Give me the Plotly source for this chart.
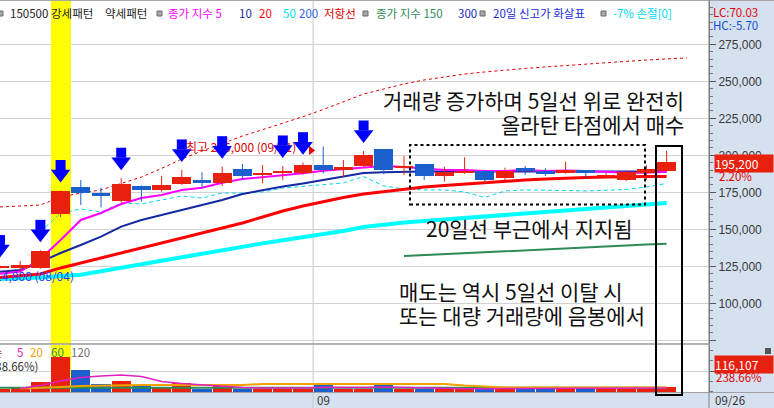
import plotly.graph_objects as go

# ---------------- data ----------------
dates = ["08/09","08/10","08/11","08/14","08/16","08/17","08/18","08/21","08/22","08/23",
         "08/24","08/25","08/28","08/29","08/30","08/31","09/01","09/04","09/05","09/06",
         "09/07","09/08","09/11","09/12","09/13","09/14","09/15","09/18","09/19","09/20",
         "09/21","09/22","09/25","09/26"]
opens  = [123900,123900,123700,160500,178600,174300,169300,179300,176600,180600,
          183500,181500,190500,187200,187800,187800,193400,190000,193000,204300,
          191600,194100,186000,188200,189600,184900,191200,189400,188200,190000,
          186000,183300,187800,189600]
highs  = [125500,128600,135800,176200,183300,178100,184500,179600,186000,190100,
          188500,192300,194100,193400,192800,195000,206000,196800,202900,204300,
          199500,194100,192300,198700,190000,191600,192800,191200,195700,190000,
          188000,189600,193400,203100]
lows   = [123500,122000,123400,158300,166400,164900,168000,168700,175400,180000,
          177700,179300,183300,181100,183300,187000,187800,185500,192100,187200,
          186700,183300,182200,187500,182200,183300,186700,186000,187500,184500,
          184700,182600,183300,189000]
closes = [125200,125900,135500,175900,174700,172500,180600,176600,179900,185500,
          181500,188200,186200,187600,189400,193400,190000,192100,200200,190000,
          192300,186000,188900,189600,183300,189600,189400,187200,190000,187800,
          186400,188900,191000,195200]
volumes = [54000,117000,240000,850000,525000,190000,256000,142000,78000,200000,
           61000,142000,61000,58000,64000,60000,176000,62000,66000,176000,
           57000,60000,63000,59000,61000,68000,65000,58000,62000,60000,
           57000,61000,64000,116107]

ma5  = [120000,121500,130000,142800,156300,161000,167100,171200,173200,176600,
        178100,181500,184000,185300,186400,187800,189600,190700,192100,192800,
        192100,191100,190000,190000,189400,189400,190000,189400,189700,189400,
        188700,188200,188200,188900]
ma10 = [121400,122500,127900,134000,139400,145000,151800,156300,159700,163000,
        166400,169800,173900,176600,178900,181000,183300,186000,188000,188500,
        188900,189000,189100,189000,189000,189100,189000,189000,189000,189100,
        189000,188900,189000,189000]
ma20 = [117500,118500,119800,123900,127200,130600,134000,137400,140700,144100,
        147500,150900,154300,158300,162400,165700,168800,171500,173900,175500,
        177200,178600,179600,180600,181300,182300,183300,184000,184700,185000,
        185300,185700,185700,185700]
ma50 = [116400,116800,117400,118400,119300,121700,124100,126600,128900,131300,
        133700,136100,138500,140500,142600,144700,146700,148800,151600,153200,
        154600,155600,156600,157600,158600,159700,160700,161700,162700,163700,
        164700,165700,166800,167800]
ma150 = [None]*20 + [131900,132500,133200,133800,134500,135100,135800,136400,
                     137100,137700,138400,139000,139700,140300]
stop7 = [None, None, 148200,161000,163700,161700,167800,167100,169800,172500,
         171100,174500,174500,175200,177900,178900,179900,181300,185700,179300,
         177200,176600,176600,175200,171500,175900,176600,176600,176200,175900,
         176600,176900,178600,181000]
resist = [165100,165700,166400,171800,174500,176600,180900,185300,191100,197500,
          202900,208100,213000,217300,221600,226100,230900,236200,241400,244800,
          248200,250900,252900,254900,256300,257700,258700,259700,260700,261700,
          262700,263700,264400,265100,265800]
vma5  = [None,73000,146000,256000,341000,378000,402000,366000,244000,195000,
         159000,122000,98000,85000,85000,85000,105000,98000,98000,110000,
         98000,85000,85000,70000,70000,70000,70000,70000,70000,70000,
         70000,70000,70000,85000]
vma20 = [None,73000,85000,110000,134000,146000,159000,159000,159000,159000,
         159000,159000,159000,183000,183000,183000,183000,183000,183000,183000,
         183000,183000,183000,146000,122000,100000,100000,100000,100000,100000,
         100000,100000,100000,100000]
vma60 = [93000]*34
arrow_days = [0, 2, 3, 6, 9, 11, 14, 15, 18]
highlight_day = 3
price_ticks = [75000,100000,125000,150000,175000,200000,225000,250000,275000]
high_label = "최고 206,000 (09/01)"
low_label = "최저 114,800 (08/04)"

# ---------------- geometry helpers ----------------
W, H = 774, 408
PLOT_R = 709
SPACING = 20.2
PRICE_PER_PX = 25000 / 37
P_REF_Y, P_REF = 303.3, 100000
VOL_PER_PX = 24390
V_ZERO_Y = 391.5

def px(xp): return xp / W
def py(yp): return 1 - yp / H
def xdata(xp): return xp / SPACING
def pdata(yp): return P_REF + (P_REF_Y - yp) * PRICE_PER_PX

RED = "#e8200e"
BLUE = "#1a5fcc"
idx = list(range(len(closes)))
cols = [RED if c >= o else BLUE for o, c in zip(opens, closes)]
price_range = [pdata(344), pdata(0)]
vol_range = [(V_ZERO_Y - 392) * VOL_PER_PX, (V_ZERO_Y - 345) * VOL_PER_PX]
x_range = [0, xdata(PLOT_R)]

fig = go.Figure()

# highlighted day column
fig.add_trace(go.Bar(x=[highlight_day], y=[price_range[1] - price_range[0]],
                     base=[price_range[0]], width=1, marker=dict(color="#ffff00", line=dict(width=0)),
                     hoverinfo="skip"))
fig.add_trace(go.Bar(x=[highlight_day], y=[vol_range[1] - vol_range[0]],
                     base=[vol_range[0]], width=1, marker=dict(color="#ffff00", line=dict(width=0)),
                     xaxis="x2", yaxis="y2", hoverinfo="skip"))

# moving averages (base subplot)
fig.add_trace(go.Scatter(x=list(range(len(resist))), y=resist, mode="lines",
                         line=dict(color="#e00000", width=1, dash="3px,3px")))
fig.add_trace(go.Scatter(x=idx, y=ma150, mode="lines", line=dict(color="#2e8b57", width=2)))
fig.add_trace(go.Scatter(x=idx, y=ma50, mode="lines", line=dict(color="#00ffff", width=4)))
fig.add_trace(go.Scatter(x=idx, y=stop7, mode="lines",
                         line=dict(color="#00d8ec", width=1, dash="4px,3px")))
fig.add_trace(go.Scatter(x=idx, y=ma20, mode="lines", line=dict(color="#ff0000", width=3)))
fig.add_trace(go.Scatter(x=idx, y=ma10, mode="lines", line=dict(color="#1428a0", width=2)))
fig.add_trace(go.Scatter(x=idx, y=ma5, mode="lines", line=dict(color="#ff00ff", width=2)))

# volume subplot
fig.add_trace(go.Bar(x=idx, y=volumes, marker=dict(color=cols, line=dict(width=0)),
                     width=0.95, xaxis="x2", yaxis="y2"))
fig.add_trace(go.Scatter(x=idx, y=vma60, mode="lines", line=dict(color="#2e8b57", width=2),
                         xaxis="x2", yaxis="y2"))
fig.add_trace(go.Scatter(x=idx, y=vma20, mode="lines", line=dict(color="#f0a000", width=2),
                         xaxis="x2", yaxis="y2"))
fig.add_trace(go.Scatter(x=idx, y=vma5, mode="lines", line=dict(color="#e020c0", width=1.5),
                         xaxis="x2", yaxis="y2"))

# candles (overlay subplot so they sit above the averages)
MIN_BODY = 700
for color in (RED, BLUE):
    wx, wy = [], []
    bx, bbase, bh = [], [], []
    for i in idx:
        if cols[i] != color:
            continue
        wx += [i, i, None]
        wy += [lows[i], highs[i], None]
        bx.append(i)
        bbase.append(min(opens[i], closes[i]))
        bh.append(max(abs(closes[i] - opens[i]), MIN_BODY))
    fig.add_trace(go.Bar(x=bx, y=bh, base=bbase, width=0.94,
                         marker=dict(color=color, line=dict(width=0)),
                         xaxis="x3", yaxis="y3"))
    fig.add_trace(go.Scatter(x=wx, y=wy, mode="lines", line=dict(color=color, width=1),
                             xaxis="x3", yaxis="y3"))

# text labels that the arrows cover
fig.add_trace(go.Scatter(x=[xdata(186)], y=[pdata(148.5)], mode="text", text=[high_label],
                         textposition="middle right",
                         textfont=dict(color="#e00000", size=12, family="Noto Sans CJK KR"),
                         xaxis="x3", yaxis="y3"))
fig.add_trace(go.Scatter(x=[16 - 0.6], y=[highs[16] - 4 * PRICE_PER_PX], mode="markers",
                         marker=dict(symbol="triangle-right", size=8, color="#e00000"),
                         xaxis="x3", yaxis="y3"))
fig.add_trace(go.Scatter(x=[xdata(74)], y=[pdata(278)], mode="text", text=[low_label],
                         textposition="middle left",
                         textfont=dict(color="#1f3fff", size=12, family="Noto Sans CJK KR"),
                         xaxis="x3", yaxis="y3"))

# 20-day new-high arrows
shaft_y = [highs[i] + 25.5 * PRICE_PER_PX for i in arrow_days]
head_y = [highs[i] + 16.5 * PRICE_PER_PX for i in arrow_days]
fig.add_trace(go.Scatter(x=arrow_days, y=shaft_y, mode="markers",
                         marker=dict(symbol="square", size=10, color="#0000ff", line=dict(width=0)),
                         xaxis="x3", yaxis="y3"))
fig.add_trace(go.Scatter(x=arrow_days, y=head_y, mode="markers",
                         marker=dict(symbol="triangle-down", size=17, color="#0000ff", line=dict(width=0)),
                         xaxis="x3", yaxis="y3"))

tick_font = dict(family="Liberation Sans", size=12, color="#3a3a3a")

fig.update_layout(
    width=W, height=H, margin=dict(l=0, r=0, t=0, b=0),
    paper_bgcolor="white", plot_bgcolor="white", showlegend=False,
    bargap=0, barmode="overlay", hovermode=False,
    xaxis=dict(domain=[0, px(PLOT_R)], range=x_range, showgrid=False, zeroline=False,
               showticklabels=False, ticks="", anchor="y"),
    xaxis2=dict(domain=[0, px(PLOT_R)], range=x_range, matches="x", showgrid=False,
                zeroline=False, showticklabels=False, ticks="", anchor="y2"),
    xaxis3=dict(overlaying="x", matches="x", range=x_range, visible=False),
    yaxis=dict(domain=[py(344), 1], range=price_range, side="right", anchor="x",
               tickvals=price_ticks, ticktext=[""] + [f"{v:,}" for v in price_ticks[1:]],
               gridcolor="#d2d2d2", gridwidth=1, zeroline=False,
               ticks="outside", ticklen=6, tickcolor="#555", tickfont=tick_font,
               showline=True, linecolor="#7a7a7a", linewidth=1,
               minor=dict(dtick=5000, tick0=0, ticklen=3, tickcolor="#777",
                          ticks="outside", showgrid=False)),
    yaxis2=dict(domain=[py(392), py(345)], range=vol_range, side="right", anchor="x2",
                tickvals=[500000], ticktext=[""], gridcolor="#d2d2d2", zeroline=False,
                ticks="outside", ticklen=6, tickcolor="#555",
                showline=True, linecolor="#7a7a7a",
                minor=dict(dtick=250000, tick0=0, ticklen=3, tickcolor="#777",
                           ticks="outside", showgrid=False)),
    yaxis3=dict(overlaying="y", range=price_range, visible=False),
)

shapes = []
BG = "#d6e1f0"
shapes.append(dict(type="rect", xref="paper", yref="paper", x0=px(PLOT_R), x1=1, y0=0, y1=1,
                   fillcolor=BG, line=dict(width=0), layer="below"))
shapes.append(dict(type="rect", xref="paper", yref="paper", x0=0, x1=1, y0=0, y1=py(392.5),
                   fillcolor=BG, line=dict(width=0), layer="below"))
shapes.append(dict(type="line", xref="x", yref="paper", x0=15.5, x1=15.5, y0=0, y1=1,
                   line=dict(color="#c8c8c8", width=1), layer="below"))
shapes.append(dict(type="line", xref="paper", yref="paper", x0=0, x1=px(PLOT_R),
                   y0=py(344), y1=py(344), line=dict(color="#9a9a9a", width=1.5)))
shapes.append(dict(type="line", xref="paper", yref="paper", x0=0, x1=1,
                   y0=py(392.5), y1=py(392.5), line=dict(color="#a0a0a0", width=1)))
shapes.append(dict(type="line", xref="paper", yref="paper", x0=0, x1=1,
                   y0=py(0.5), y1=py(0.5), line=dict(color="#a8a8a8", width=1)))
shapes.append(dict(type="line", xref="paper", yref="paper", x0=px(PLOT_R), x1=px(PLOT_R),
                   y0=0, y1=1, line=dict(color="#808080", width=1)))
# boxes
shapes.append(dict(type="rect", xref="paper", yref="paper", x0=px(410), x1=px(645),
                   y0=py(204.5), y1=py(145), line=dict(color="black", width=2, dash="dot")))
shapes.append(dict(type="rect", xref="paper", yref="paper", x0=px(656), x1=px(682),
                   y0=py(395), y1=py(146), line=dict(color="black", width=2)))
# legend squares + icon
for sx in (-2, 157, 363, 480, 601):
    shapes.append(dict(type="rect", xref="paper", yref="paper", x0=px(sx), x1=px(sx + 5),
                       y0=py(16), y1=py(11), fillcolor="#a8a8a8",
                       line=dict(color="#6a6a6a", width=1)))
shapes.append(dict(type="rect", xref="paper", yref="paper", x0=px(765), x1=px(771),
                   y0=py(354), y1=py(348), fillcolor="#555", line=dict(width=0)))
fig.update_layout(shapes=shapes)

KR = "Noto Sans CJK KR"
ann = []
def txt(t, x, y, color, size=11.5, anchor="left", **kw):
    ann.append(dict(text=t, x=px(x), y=py(y), xref="paper", yref="paper", xanchor=anchor,
                    yanchor="middle", showarrow=False,
                    font=dict(family=KR, size=size, color=color), **kw))

# top legend row
LY = 13
txt("150500", 8, LY, "#222")
txt("강세패턴", 49, LY, "#222")
txt("약세패턴", 103, LY, "#222")
txt("종가 지수 5", 166, LY, "#ff00ff")
txt("10", 237, LY, "#1428a0")
txt("20", 257, LY, "#ff0000")
txt("50", 281, LY, "#00e0f0")
txt("200", 297, LY, "#2b5fe8")
txt("저항선", 322, LY, "#e00000")
txt("종가 지수 150", 374, LY, "#2e8b57")
txt("300", 456, LY, "#1428c0")
txt("20일 신고가 화살표", 491, LY, "#1a2bd8")
txt("-7% 손절[0]", 611, LY, "#00d8f0")
txt("LC:70.03", 711, 12, "#e00000")
txt("HC:-5.70", 711, 25, "#1050d0")

# volume legend
txt("순", 5, 352, "#e020c0", anchor="right")
txt("5", 15, 352, "#e020c0")
txt("20", 28, 352, "#f0a000")
txt("60", 49, 352, "#2e8b57")
txt("120", 69, 352, "#707070")
txt("(238.66%)", 40, 366, "#333", anchor="right")

# right side value boxes
txt("195,200", 714, 163, "white", size=12, bgcolor=RED, borderpad=0, width=58, align="left")
txt("2.20%", 717, 176, "#e00000")
txt("116,107", 714, 364, "white", size=12, bgcolor=RED, borderpad=0, width=58, align="left")
txt("238.66%", 714, 377, "#e00000")

# date labels
txt("09", 315, 400, "#333")
txt("09/26", 713, 400, "#333")

# commentary
BIG = 21
txt("거래량 증가하며 5일선 위로 완전히", 686, 100, "#111", size=BIG, anchor="right")
txt("올라탄 타점에서 매수", 686, 124, "#111", size=BIG, anchor="right")
txt("20일선 부근에서 지지됨", 424, 228, "#111", size=BIG)
txt("매도는 역시 5일선 이탈 시", 397, 291, "#111", size=BIG)
txt("또는 대량 거래량에 음봉에서", 397, 315, "#111", size=BIG)

fig.update_layout(annotations=ann)
fig.write_html("out.html", config={"displayModeBar": False},
               post_script="document.body.style.margin='0';document.body.style.padding='0';")
